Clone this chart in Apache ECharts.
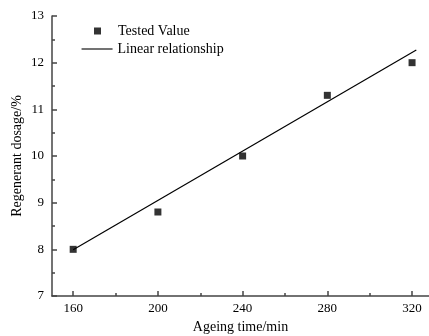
<!DOCTYPE html>
<html>
<head>
<meta charset="utf-8">
<script src="https://cdn.jsdelivr.net/npm/echarts@6/dist/echarts.min.js"></script>
<style>html,body{margin:0;padding:0;background:#fff;}#c{width:429px;height:336px;}</style>
</head>
<body>
<div id="c"></div>
<script>
var ageingTime = [160, 200, 240, 280, 320];
var testedValue = [8.0, 8.8, 10.0, 11.3, 12.0];
var fitX = [160, 322];
var fitY = [7.99, 12.27];
var xMajorTicks = [160, 200, 240, 280, 320];
var xMinorTicks = [180, 220, 260, 300];
var seriesNames = ['Tested Value', 'Linear relationship'];

var font = 'Liberation Serif';
var chart = echarts.init(document.getElementById('c'), null, {renderer: 'canvas'});
var axisColor = '#444';
chart.setOption({
  animation: false,
  backgroundColor: '#fff',
  textStyle: {fontFamily: font},
  grid: {left: 52, right: 0, top: 16, bottom: 40, containLabel: false, outerBoundsMode: 'none'},
  legend: [
    {data: [{name: seriesNames[0], icon: 'path://M0,0H1V1H0Z', itemStyle: {color: '#000'}}], left: 89, top: 19, itemWidth: 31, itemHeight: 7,
     symbolKeepAspect: true, textStyle: {fontFamily: font, fontSize: 14, color: '#000'}},
    {data: [{name: seriesNames[1], itemStyle: {opacity: 0}}], left: 76, top: 37, itemWidth: 31, itemHeight: 14,
     lineStyle: {color: '#000', width: 1.1},
     textStyle: {fontFamily: font, fontSize: 14, color: '#000'}}
  ],
  xAxis: [{
    type: 'value', min: 150, max: 328,
    name: 'Ageing time/min', nameLocation: 'middle', nameGap: 24, nameMoveOverlap: false,
    nameTextStyle: {fontFamily: font, fontSize: 14, color: '#000'},
    axisLine: {show: true, lineStyle: {color: axisColor, width: 1.5}},
    axisTick: {show: true, inside: true, length: 5, customValues: xMajorTicks, lineStyle: {color: axisColor, width: 1.5}},
    axisLabel: {customValues: xMajorTicks, margin: 6, fontFamily: font, fontSize: 13, color: '#000'},
    splitLine: {show: false}
  }, {
    type: 'value', min: 150, max: 328, position: 'bottom',
    axisLine: {show: false},
    axisTick: {show: true, inside: true, length: 3, customValues: xMinorTicks, lineStyle: {color: axisColor, width: 1.5}},
    axisLabel: {show: false},
    splitLine: {show: false}
  }],
  yAxis: {
    type: 'value', min: 7, max: 13, interval: 1,
    name: 'Regenerant dosage/%', nameLocation: 'middle', nameGap: 28, nameMoveOverlap: false,
    nameTextStyle: {fontFamily: font, fontSize: 14, color: '#000'},
    axisLine: {show: true, lineStyle: {color: axisColor, width: 1.5}},
    axisTick: {show: true, inside: true, length: 5, lineStyle: {color: axisColor, width: 1.5}},
    minorTick: {show: true, splitNumber: 2, length: 3, lineStyle: {color: axisColor, width: 1.5}},
    axisLabel: {margin: 8, fontFamily: font, fontSize: 13, color: '#000'},
    splitLine: {show: false}
  },
  series: [{
    name: seriesNames[0], type: 'scatter',
    data: ageingTime.map(function (x, i) { return [x, testedValue[i]]; }),
    symbol: 'rect', symbolSize: 7, itemStyle: {color: '#000'}, z: 3
  }, {
    name: seriesNames[1], type: 'line',
    data: fitX.map(function (x, i) { return [x, fitY[i]]; }),
    symbol: 'none', itemStyle: {color: '#000'}, lineStyle: {color: '#000', width: 1.2}, z: 2
  }]
});
</script>
</body>
</html>
